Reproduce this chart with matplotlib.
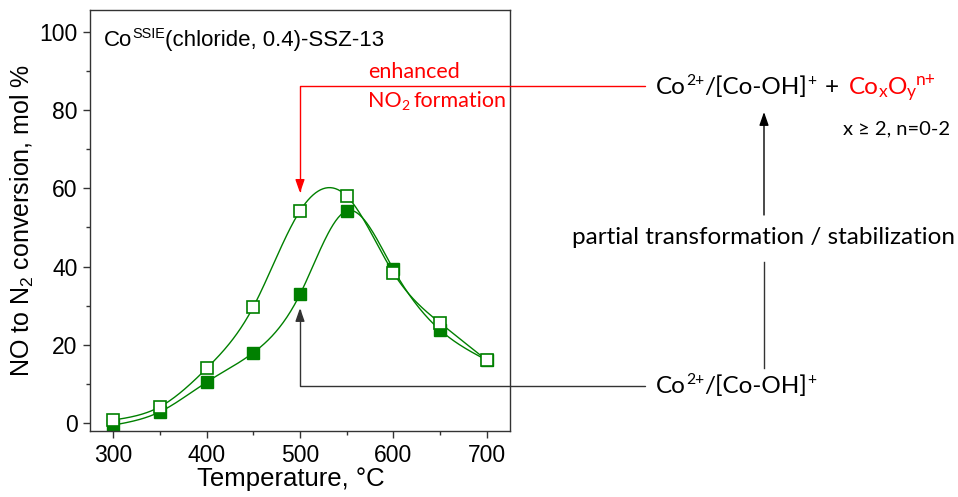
import numpy as np
import matplotlib
matplotlib.use("Agg")
import matplotlib.pyplot as plt
from matplotlib.lines import Line2D

temps = [300, 350, 400, 450, 500, 550, 600, 650, 700]
conv_filled = [-0.5, 2.9, 10.5, 18.0, 32.9, 54.2, 39.3, 23.8, 16.1]
conv_open = [0.8, 4.2, 14.0, 29.7, 54.2, 58.0, 38.4, 25.6, 16.1]

GREEN = "#008000"
AX_FONT = "Liberation Sans"
NOTE_FONT = "Lato"
W, H = 958, 497


def natural_spline(x, y, n=300):
    # plain natural cubic spline, solved with numpy
    x = np.asarray(x, float)
    y = np.asarray(y, float)
    m = len(x)
    h = np.diff(x)
    A = np.zeros((m, m))
    b = np.zeros(m)
    A[0, 0] = A[-1, -1] = 1
    for i in range(1, m - 1):
        A[i, i - 1] = h[i - 1]
        A[i, i] = 2 * (h[i - 1] + h[i])
        A[i, i + 1] = h[i]
        b[i] = 6 * ((y[i + 1] - y[i]) / h[i] - (y[i] - y[i - 1]) / h[i - 1])
    M = np.linalg.solve(A, b)
    xs = np.linspace(x[0], x[-1], n)
    k = np.clip(np.searchsorted(x, xs) - 1, 0, m - 2)
    t0 = x[k + 1] - xs
    t1 = xs - x[k]
    hk = h[k]
    ys = (M[k] * t0**3 + M[k + 1] * t1**3) / (6 * hk) \
        + (y[k] / hk - M[k] * hk / 6) * t0 + (y[k + 1] / hk - M[k + 1] * hk / 6) * t1
    return xs, ys


def rich_text(fig, x_px, base_px, runs, size, family=NOTE_FONT, sub_scale=0.65):
    # runs: (text, kind, color); kind "n", "sup", "sub" or "gap" (text = pixels)
    renderer = fig.canvas.get_renderer()
    em = size * fig.dpi / 72
    x = x_px
    for s, kind, color in runs:
        if kind == "gap":
            x += s
            continue
        fs, dy = size, 0.0
        if kind == "sup":
            fs, dy = size * sub_scale, -0.36 * em
        elif kind == "sub":
            fs, dy = size * sub_scale, 0.14 * em
        t = fig.text(x / W, 1 - (base_px + dy) / H, s, fontsize=fs, family=family, color=color,
                     ha="left", va="baseline")
        x = t.get_window_extent(renderer).x1
    return x


fig = plt.figure(figsize=(W / 100, H / 100), dpi=100)
ax = fig.add_axes([90 / W, 1 - 431 / H, 420 / W, 421 / H])

xs, ys = natural_spline(temps, conv_filled)
ax.plot(xs, ys, color=GREEN, lw=1)
ax.plot(temps, conv_filled, ls="none", marker="s", ms=8.5, color=GREEN, mfc=GREEN, mec=GREEN)
xs, ys = natural_spline(temps, conv_open)
ax.plot(xs, ys, color=GREEN, lw=1)
ax.plot(temps, conv_open, ls="none", marker="s", ms=8.5, color=GREEN, mfc="white", mec=GREEN, mew=1.2)

ax.set_xlim(275, 725)
ax.set_ylim(-2, 105.5)
ax.set_xticks([300, 400, 500, 600, 700])
ax.set_xticks([350, 450, 550, 650], minor=True)
ax.set_yticks([0, 20, 40, 60, 80, 100])
ax.set_yticks([10, 30, 50, 70, 90], minor=True)
ax.tick_params(which="both", direction="out", top=False, right=False, labelsize=16.5, width=1,
               color="#333333", pad=4)
ax.tick_params(which="major", length=5)
ax.tick_params(which="minor", length=3)
for lab in ax.get_xticklabels() + ax.get_yticklabels():
    lab.set_fontfamily(AX_FONT)
for s in ax.spines.values():
    s.set_color("#333333")
    s.set_linewidth(1)

ax.set_xlabel("Temperature, °C", fontsize=18.5, family=AX_FONT, labelpad=1)
ax.xaxis.set_label_coords(0.478, -0.085)
ax.set_ylabel(r"NO to N$_\mathregular{2}$ conversion, mol %", fontsize=18, family=AX_FONT, labelpad=2)

# red and black annotation arrows from the right-hand labels
head = "-|>,head_length=1.0,head_width=0.35"
ax.annotate("", xy=(500, 58.8), xytext=(645 / W, 1 - 86 / H), textcoords="figure fraction",
            arrowprops=dict(arrowstyle=head, color="red", lw=1, mutation_scale=8, shrinkA=0, shrinkB=0,
                            connectionstyle="angle,angleA=180,angleB=90,rad=0"))
ax.annotate("", xy=(500, 29.4), xytext=(645 / W, 1 - 386 / H), textcoords="figure fraction",
            arrowprops=dict(arrowstyle=head, color="#333333", lw=1, mutation_scale=8, shrinkA=0,
                            shrinkB=0, connectionstyle="angle,angleA=180,angleB=90,rad=0"))

fig.canvas.draw()

rich_text(fig, 104, 46, [("Co", "n", "black"), ("SSIE", "sup", "black"),
                         ("(chloride, 0.4)-SSZ-13", "n", "black")], 16, family=AX_FONT)

rich_text(fig, 368, 78, [("enhanced", "n", "red")], 15.5)
rich_text(fig, 368, 107, [("NO", "n", "red"), ("2", "sub", "red"), (3.5, "gap", None),
                          ("formation", "n", "red")], 15.5)

# right-hand scheme
top_runs = [("Co", "n", "black"), ("2+", "sup", "black"), ("/[Co-OH]", "n", "black"),
            ("+", "sup", "black"), (9, "gap", None), ("+", "n", "black"), (10, "gap", None)]
x_end = rich_text(fig, 656, 94, top_runs, 17.5)
rich_text(fig, x_end, 94, [("Co", "n", "red"), ("x", "sub", "red"), ("O", "n", "red"),
                           ("y", "sub", "red"), ("n+", "sup", "red")], 17.5, sub_scale=0.72)
rich_text(fig, 843, 134, [("x ≥ 2, n=0-2", "n", "black")], 14.5)
fig.text(764 / W, 1 - 238 / H, "partial transformation / stabilization", fontsize=17.5,
         family=NOTE_FONT, ha="center", va="center")
rich_text(fig, 656, 393, [("Co", "n", "black"), ("2+", "sup", "black"), ("/[Co-OH]", "n", "black"),
                          ("+", "sup", "black")], 17.5)

fig.add_artist(Line2D([764 / W, 764 / W], [1 - 368 / H, 1 - 262 / H], color="#333333", lw=1))
ax.annotate("", xy=(764 / W, 1 - 112 / H), xytext=(764 / W, 1 - 215 / H), xycoords="figure fraction",
            textcoords="figure fraction",
            arrowprops=dict(arrowstyle=head, color="black", lw=1, mutation_scale=8, shrinkA=0, shrinkB=0))

fig.savefig("out.png", dpi=100)
